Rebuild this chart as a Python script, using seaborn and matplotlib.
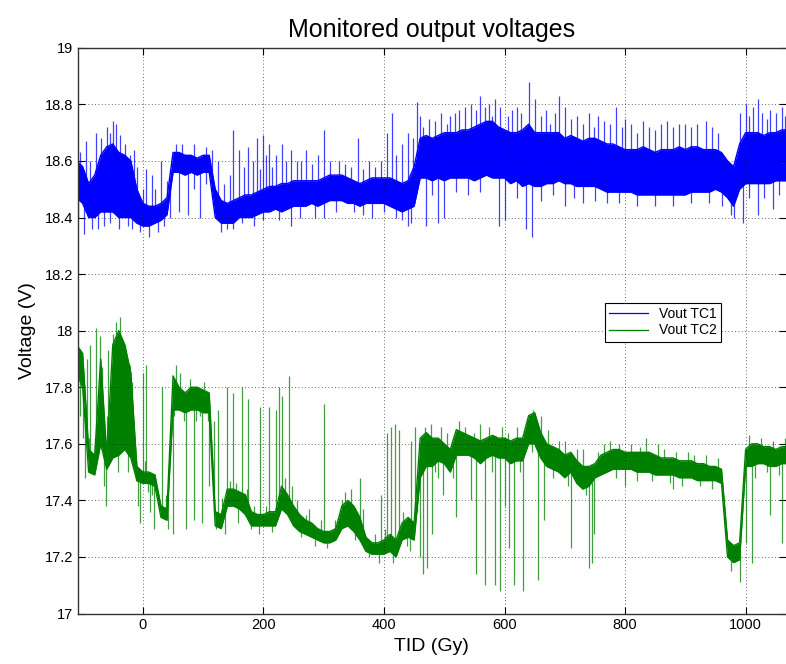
import numpy as np
import pandas as pd
import matplotlib
matplotlib.use("Agg")
import matplotlib.pyplot as plt
from matplotlib.lines import Line2D
import seaborn as sns

# ---------------- data ----------------
tid = list(range(-110, 1071, 10))  # Gy, node positions

tc1_lo = [18.47, 18.45, 18.40, 18.40, 18.42, 18.42, 18.42, 18.40, 18.40, 18.40,
          18.38, 18.37, 18.37, 18.38, 18.39, 18.41, 18.56, 18.56, 18.55, 18.56,
          18.55, 18.56, 18.56, 18.40, 18.38, 18.38, 18.38, 18.40, 18.40, 18.40,
          18.41, 18.42, 18.42, 18.43, 18.42, 18.43, 18.44, 18.44, 18.44, 18.45,
          18.44, 18.45, 18.46, 18.46, 18.46, 18.45, 18.45, 18.44, 18.45, 18.45,
          18.45, 18.45, 18.44, 18.43, 18.42, 18.43, 18.44, 18.54, 18.54, 18.53,
          18.54, 18.53, 18.54, 18.54, 18.54, 18.54, 18.53, 18.54, 18.55, 18.54,
          18.54, 18.54, 18.52, 18.53, 18.51, 18.52, 18.51, 18.51, 18.52, 18.52,
          18.53, 18.52, 18.52, 18.51, 18.51, 18.51, 18.51, 18.50, 18.49, 18.49,
          18.49, 18.49, 18.49, 18.48, 18.48, 18.48, 18.48, 18.48, 18.48, 18.48,
          18.48, 18.48, 18.49, 18.49, 18.49, 18.49, 18.50, 18.49, 18.47, 18.44,
          18.50, 18.52, 18.52, 18.52, 18.52, 18.52, 18.53, 18.53, 18.53]
tc1_hi = [18.60, 18.58, 18.52, 18.55, 18.62, 18.65, 18.66, 18.63, 18.62, 18.60,
          18.50, 18.45, 18.44, 18.44, 18.45, 18.47, 18.63, 18.63, 18.62, 18.62,
          18.61, 18.62, 18.62, 18.50, 18.46, 18.45, 18.46, 18.47, 18.48, 18.48,
          18.49, 18.50, 18.51, 18.51, 18.52, 18.52, 18.53, 18.53, 18.53, 18.53,
          18.53, 18.54, 18.55, 18.55, 18.55, 18.54, 18.53, 18.52, 18.53, 18.54,
          18.54, 18.54, 18.54, 18.53, 18.52, 18.53, 18.58, 18.68, 18.69, 18.68,
          18.69, 18.70, 18.70, 18.70, 18.71, 18.71, 18.72, 18.73, 18.74, 18.74,
          18.72, 18.71, 18.70, 18.70, 18.71, 18.73, 18.70, 18.70, 18.70, 18.70,
          18.70, 18.68, 18.69, 18.68, 18.67, 18.68, 18.68, 18.67, 18.66, 18.66,
          18.65, 18.64, 18.64, 18.64, 18.65, 18.64, 18.63, 18.64, 18.64, 18.64,
          18.65, 18.64, 18.65, 18.65, 18.64, 18.64, 18.64, 18.63, 18.60, 18.58,
          18.66, 18.70, 18.70, 18.70, 18.69, 18.70, 18.70, 18.71, 18.71]

# large isolated excursions
tc1_spike_x = [-95, -78, -60, -50, -45, -30, -15, 5, 15, 30, 55, 125, 150, 160, 175,
               190, 200, 210, 220, 230, 245, 255, 270, 300, 325, 357, 395, 405, 414,
               440, 454, 465, 485, 510, 525, 545, 560, 575, 585, 593, 620, 640, 650,
               660, 690, 700, 720, 740, 755, 785, 800, 830, 870, 900, 935, 990, 1000,
               1020, 1040, 1060,
               -98, -85, -65, -25, -5, 10, 60, 75, 95, 140, 185, 245, 300, 380, 440,
               445, 470, 490, 500, 590, 600, 635, 645, 700, 730, 980, 995, 1020, 1045]
tc1_spike_v = [18.67, 18.70, 18.72, 18.74, 18.73, 18.66, 18.64, 18.57, 18.55, 18.60,
               18.66, 18.60, 18.71, 18.64, 18.65, 18.68, 18.69, 18.66, 18.62, 18.66,
               18.64, 18.60, 18.64, 18.71, 18.60, 18.68, 18.60, 18.70, 18.77, 18.70,
               18.81, 18.72, 18.74, 18.76, 18.78, 18.80, 18.83, 18.80, 18.82, 18.79,
               18.79, 18.88, 18.82, 18.76, 18.83, 18.79, 18.76, 18.77, 18.76, 18.79,
               18.75, 18.74, 18.74, 18.73, 18.74, 18.77, 18.80, 18.82, 18.78, 18.79,
               18.34, 18.36, 18.37, 18.37, 18.35, 18.33, 18.42, 18.41, 18.40, 18.36,
               18.37, 18.37, 18.40, 18.40, 18.37, 18.38, 18.37, 18.38, 18.40, 18.37,
               18.39, 18.36, 18.33, 18.44, 18.45, 18.40, 18.38, 18.41, 18.43]
# smaller excursions along the band edges
tc1_edge_x = [-105, -88, -70, -55, -38, -22, -10, 0, 20, 40, 65, 85, 105, 115, 135, 145,
              168, 182, 195, 205, 215, 238, 262, 280, 290, 310, 335, 345, 365, 375, 385,
              420, 430, 448, 460, 475, 495, 505, 518, 535, 552, 568, 580, 605, 612, 628,
              668, 675, 683, 710, 730, 748, 765, 775, 795, 810, 820, 840, 850, 860, 880,
              890, 910, 920, 945, 955, 1005, 1012, 1028, 1035, 1050, 1065,
              -108, -75, -55, -40, -18, 25, 35, 45, 85, 105, 130, 150, 165, 200, 225,
              260, 285, 320, 350, 365, 400, 420, 430, 480, 520, 540, 560, 620, 660, 680,
              715, 750, 770, 790, 820, 850, 880, 910, 940, 960, 975, 1005, 1030, 1055]
tc1_edge_v = [18.63, 18.60, 18.68, 18.70, 18.69, 18.62, 18.58, 18.50, 18.50, 18.53,
              18.66, 18.66, 18.65, 18.64, 18.52, 18.55, 18.58, 18.60, 18.57, 18.62,
              18.58, 18.60, 18.60, 18.59, 18.62, 18.60, 18.59, 18.58, 18.57, 18.60,
              18.58, 18.62, 18.66, 18.68, 18.76, 18.75, 18.77, 18.73, 18.77, 18.79,
              18.78, 18.79, 18.76, 18.76, 18.78, 18.77, 18.78, 18.73, 18.77, 18.75,
              18.73, 18.72, 18.74, 18.73, 18.72, 18.73, 18.70, 18.72, 18.71, 18.73,
              18.72, 18.73, 18.72, 18.73, 18.72, 18.70, 18.76, 18.79, 18.77, 18.75,
              18.77, 18.76,
              18.40, 18.36, 18.38, 18.36, 18.36, 18.35, 18.37, 18.40, 18.50, 18.52,
              18.35, 18.36, 18.38, 18.39, 18.39, 18.40, 18.40, 18.42, 18.42, 18.41,
              18.42, 18.40, 18.39, 18.48, 18.49, 18.48, 18.49, 18.47, 18.46, 18.48,
              18.47, 18.46, 18.45, 18.45, 18.44, 18.44, 18.44, 18.45, 18.45, 18.44,
              18.41, 18.47, 18.47, 18.48]

tc2_lo = [17.85, 17.80, 17.50, 17.49, 17.60, 17.51, 17.55, 17.56, 17.58, 17.55,
          17.47, 17.46, 17.46, 17.45, 17.34, 17.33, 17.72, 17.72, 17.71, 17.72,
          17.72, 17.71, 17.71, 17.31, 17.30, 17.38, 17.38, 17.37, 17.35, 17.31,
          17.31, 17.31, 17.31, 17.31, 17.37, 17.35, 17.31, 17.29, 17.28, 17.27,
          17.26, 17.25, 17.25, 17.26, 17.30, 17.31, 17.29, 17.26, 17.22, 17.21,
          17.21, 17.21, 17.22, 17.20, 17.26, 17.27, 17.26, 17.48, 17.52, 17.52,
          17.54, 17.53, 17.50, 17.56, 17.56, 17.56, 17.55, 17.53, 17.55, 17.56,
          17.55, 17.55, 17.53, 17.54, 17.54, 17.60, 17.60, 17.55, 17.52, 17.51,
          17.50, 17.48, 17.50, 17.46, 17.44, 17.45, 17.48, 17.49, 17.50, 17.51,
          17.51, 17.51, 17.51, 17.50, 17.50, 17.50, 17.49, 17.49, 17.49, 17.49,
          17.48, 17.48, 17.48, 17.47, 17.47, 17.47, 17.47, 17.46, 17.20, 17.18,
          17.19, 17.52, 17.52, 17.53, 17.53, 17.52, 17.52, 17.53, 17.53]
tc2_hi = [17.95, 17.92, 17.58, 17.56, 17.90, 17.56, 17.95, 18.00, 17.95, 17.85,
          17.52, 17.50, 17.50, 17.49, 17.38, 17.37, 17.84, 17.80, 17.78, 17.80,
          17.80, 17.79, 17.78, 17.36, 17.35, 17.44, 17.44, 17.43, 17.42, 17.36,
          17.35, 17.35, 17.36, 17.36, 17.45, 17.42, 17.38, 17.35, 17.33, 17.32,
          17.30, 17.29, 17.29, 17.30, 17.38, 17.40, 17.38, 17.34, 17.27, 17.25,
          17.25, 17.26, 17.28, 17.26, 17.32, 17.34, 17.32, 17.62, 17.64, 17.62,
          17.62, 17.60, 17.58, 17.65, 17.64, 17.63, 17.62, 17.61, 17.62, 17.63,
          17.62, 17.62, 17.61, 17.62, 17.62, 17.70, 17.71, 17.64, 17.60, 17.59,
          17.58, 17.56, 17.57, 17.54, 17.52, 17.52, 17.53, 17.56, 17.57, 17.58,
          17.58, 17.57, 17.57, 17.57, 17.57, 17.57, 17.56, 17.55, 17.55, 17.55,
          17.54, 17.54, 17.54, 17.53, 17.53, 17.52, 17.52, 17.51, 17.26, 17.24,
          17.25, 17.58, 17.60, 17.60, 17.59, 17.59, 17.58, 17.59, 17.59]

tc2_spike_x = [-105, -100, -96, -93, -88, -85, -80, -78, -72, -68, -65, -62, -58, -50,
               -44, -38, -34, -30, -25, -22, -18, -12, -8, -5, 0, 5, 8, 12, 18, 22, 32,
               38, 47, 50, 55, 72, 85, 95, 98, 110, 118, 125, 140, 150, 158, 165, 175,
               180, 195, 210, 220, 225, 230, 242, 255, 270, 300, 330, 360, 395, 405,
               412, 418, 425, 438, 445, 452, 460, 465, 472, 480, 490, 498, 520, 545,
               553, 568, 585, 592, 600, 608, 616, 630, 648, 655, 665, 710, 740, 745,
               748, 800, 880, 970, 975, 990, 1000, 1010, 1040, 1060]
tc2_spike_v = [17.70, 17.62, 17.48, 17.90, 17.95, 17.52, 17.62, 18.01, 17.98, 17.87,
               17.45, 17.38, 17.93, 17.99, 18.03, 18.05, 17.85, 17.95, 17.50, 17.88,
               17.82, 17.47, 17.38, 17.32, 17.85, 17.88, 17.43, 17.36, 17.30, 17.45,
               17.80, 17.42, 17.62, 17.28, 17.88, 17.30, 17.33, 17.70, 17.32, 17.45,
               17.68, 17.72, 17.80, 17.78, 17.32, 17.80, 17.76, 17.30, 17.73, 17.73,
               17.72, 17.80, 17.77, 17.84, 17.40, 17.35, 17.74, 17.40, 17.48, 17.42,
               17.64, 17.66, 17.67, 17.65, 17.24, 17.61, 17.66, 17.20, 17.14, 17.16,
               17.28, 17.48, 17.42, 17.34, 17.40, 17.14, 17.10, 17.10, 17.08, 17.38,
               17.23, 17.10, 17.08, 17.72, 17.12, 17.33, 17.23, 17.16, 17.18, 17.28,
               17.45, 17.44, 17.25, 17.15, 17.11, 17.25, 17.18, 17.35, 17.25]
tc2_edge_x = [-102, -90, -60, -42, -15, 3, 15, 27, 42, 52, 62, 68, 78, 88, 102, 108, 122,
              132, 137, 145, 155, 172, 185, 192, 205, 215, 235, 248, 262, 275, 285, 295,
              305, 318, 335, 345, 352, 365, 375, 385, 392, 402, 415, 432, 443, 455, 468,
              478, 485, 495, 505, 515, 525, 535, 550, 560, 575, 580, 595, 605, 620, 625,
              638, 645, 660, 672, 680, 690, 700, 705, 720, 730, 735, 755, 765, 775, 785,
              790, 810, 820, 825, 835, 845, 855, 865, 875, 885, 895, 905, 915, 925, 935,
              945, 955, 1005, 1015, 1025, 1035, 1045, 1055, 1065]
tc2_edge_v = [17.84, 17.62, 17.70, 17.50, 17.55, 17.54, 17.42, 17.40, 17.30, 17.70,
              17.85, 17.68, 17.83, 17.68, 17.82, 17.68, 17.30, 17.41, 17.28, 17.47,
              17.46, 17.44, 17.38, 17.28, 17.38, 17.29, 17.48, 17.45, 17.27, 17.37,
              17.24, 17.33, 17.23, 17.33, 17.43, 17.44, 17.26, 17.37, 17.20, 17.28,
              17.18, 17.30, 17.18, 17.36, 17.22, 17.36, 17.66, 17.67, 17.50, 17.66,
              17.64, 17.48, 17.68, 17.66, 17.64, 17.67, 17.66, 17.50, 17.66, 17.64,
              17.66, 17.50, 17.68, 17.57, 17.70, 17.65, 17.48, 17.61, 17.61, 17.45,
              17.58, 17.58, 17.42, 17.57, 17.60, 17.61, 17.48, 17.60, 17.60, 17.47,
              17.59, 17.62, 17.47, 17.60, 17.58, 17.46, 17.57, 17.45, 17.57, 17.56,
              17.45, 17.56, 17.44, 17.55, 17.63, 17.48, 17.62, 17.50, 17.61, 17.49,
              17.62]

series_names = ["Vout TC1", "Vout TC2"]
series_colors = ["#0000ff", "#008000"]
y_ticks = [17, 17.2, 17.4, 17.6, 17.8, 18, 18.2, 18.4, 18.6, 18.8, 19]
y_tick_labels = ["17", "17.2", "17.4", "17.6", "17.8", "18", "18.2", "18.4", "18.6", "18.8", "19"]
x_ticks = [0, 200, 400, 600, 800, 1000]

plt.rcParams["font.family"] = ["Liberation Sans", "DejaVu Sans"]
fig = plt.figure(figsize=(7.86, 6.64), dpi=100)
ax = fig.add_axes([0.099, 0.076, 0.901, 0.852])

tid_a = np.array(tid)
series = [
    (tc1_lo, tc1_hi, tc1_spike_x + tc1_edge_x, tc1_spike_v + tc1_edge_v),
    (tc2_lo, tc2_hi, tc2_spike_x + tc2_edge_x, tc2_spike_v + tc2_edge_v),
]
for (lo, hi, sx, sv), name, col in zip(series, series_names, series_colors):
    lo_a, hi_a = np.array(lo), np.array(hi)
    # dense measurement band
    ax.fill_between(tid, lo, hi, color=col, lw=0)
    band = pd.DataFrame({"TID": tid + tid, "V": lo + hi,
                         "edge": ["lo"] * len(tid) + ["hi"] * len(tid)})
    sns.lineplot(data=band, x="TID", y="V", units="edge", estimator=None,
                 color=col, lw=1.0, ax=ax)
    # excursions from the band
    base = np.interp(sx, tid_a, (lo_a + hi_a) / 2)
    ax.vlines(sx, base, sv, color=col, lw=0.9, alpha=0.75)

ax.set_xlim(-108, 1067)
ax.set_ylim(17, 19)
ax.set_xticks(x_ticks)
ax.set_xticklabels([str(t) for t in x_ticks])
ax.set_yticks(y_ticks)
ax.set_yticklabels(y_tick_labels)
ax.grid(True, color="black", linestyle=(0, (1, 3)), linewidth=0.6, alpha=0.8)
ax.tick_params(direction="in", top=True, right=True, labelsize=10.5, length=5, width=0.8)
for side in ["left", "bottom", "top"]:
    ax.spines[side].set_color("#333333")
    ax.spines[side].set_linewidth(1.0)
ax.spines["right"].set_visible(False)

ax.set_title("Monitored output voltages", fontsize=18, pad=8)
ax.set_xlabel("TID (Gy)", fontsize=14, labelpad=4)
ax.set_ylabel("Voltage (V)", fontsize=14, labelpad=6)

h = [Line2D([0], [0], color=c, lw=0.9) for c in series_colors]
leg = ax.legend(h, series_names, loc="upper left", bbox_to_anchor=(0.734, 0.562),
                fontsize=10, frameon=True, fancybox=False, framealpha=1,
                edgecolor="black", handlelength=2.8, borderpad=0.3, labelspacing=0.2)
leg.get_frame().set_linewidth(0.8)

fig.savefig("out.png", dpi=100)
